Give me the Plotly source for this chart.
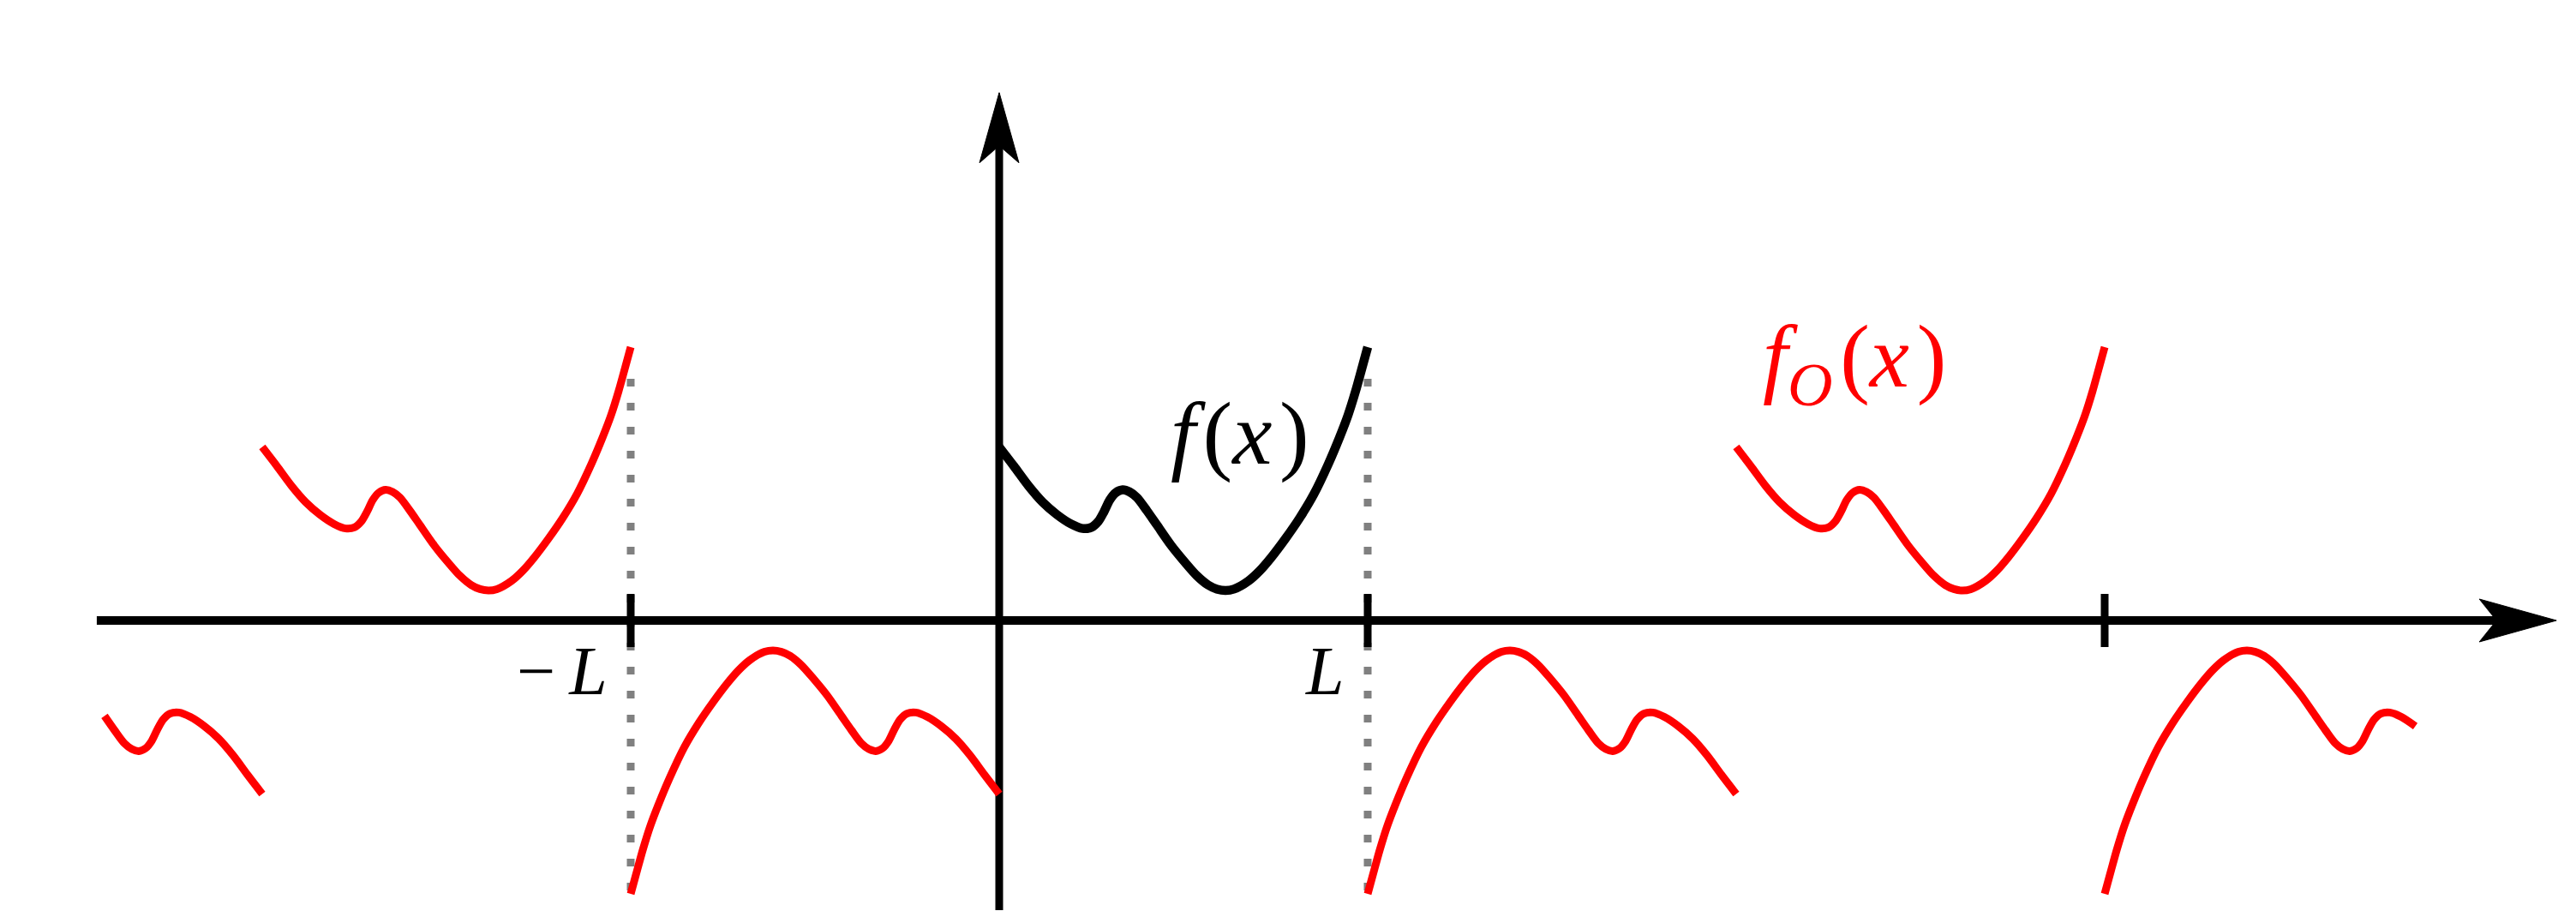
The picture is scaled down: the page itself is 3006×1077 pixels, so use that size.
import plotly.graph_objects as go

# f(x) on [0, L] (x in units of L)
u = [0.0, 0.040, 0.079, 0.118, 0.157, 0.195, 0.226, 0.250, 0.269, 0.284, 0.300,
     0.316, 0.335, 0.354, 0.374, 0.401, 0.428, 0.467, 0.505, 0.536, 0.567,
     0.591, 0.614, 0.637, 0.676, 0.707, 0.738, 0.777, 0.816, 0.854, 0.893,
     0.924, 0.947, 0.967, 0.982, 1.0]
f = [1.012, 0.900, 0.787, 0.690, 0.617, 0.563, 0.537, 0.543, 0.578, 0.633, 0.703,
     0.745, 0.762, 0.750, 0.717, 0.640, 0.557, 0.437, 0.337, 0.262, 0.207,
     0.183, 0.175, 0.183, 0.230, 0.290, 0.367, 0.478, 0.600, 0.737, 0.912,
     1.070, 1.200, 1.337, 1.453, 1.595]

x_axis = [-2.449, 4.226]
y_axis = [-1.69, 3.08]
tick_x = [-1, 1, 3]
tick_text = ["\u2212\u2009<i>L</i>", "<i>L</i>", ""]
jump_x = [-1, 1]

# px per data unit, origin position on the page
SX, SY = 430.0, 200.0
X0, Y0 = 1166.0, 724.0
PAD = 8  # body margin of the page
W, H = 3006 - 2 * PAD, 1077 - 2 * PAD

RED = "#ff0000"
fig = go.Figure()

# dotted jump lines
for xj in jump_x:
    fig.add_trace(go.Scatter(x=[xj, xj], y=[-f[-1] + 0.02, f[-1] - 0.13], mode="lines",
                             line=dict(color="#808080", width=9, dash="9px,19px"),
                             hoverinfo="skip"))

# axes
fig.add_trace(go.Scatter(x=[x_axis[0], x_axis[1] - 66 / SX], y=[0, 0], mode="lines",
                         line=dict(color="black", width=10), hoverinfo="skip"))
fig.add_trace(go.Scatter(x=[0, 0], y=[y_axis[0], y_axis[1] - 62 / SY], mode="lines",
                         line=dict(color="black", width=9), hoverinfo="skip"))

# arrow heads
tx = x_axis[1]
fig.add_trace(go.Scatter(
    x=[tx, tx - 90 / SX, tx - 70 / SX, tx - 90 / SX, tx],
    y=[0, 25 / SY, 0, -25 / SY, 0],
    mode="lines", fill="toself", fillcolor="black", line=dict(color="black", width=1),
    hoverinfo="skip"))
ty = y_axis[1]
fig.add_trace(go.Scatter(
    x=[0, 23 / SX, 0, -23 / SX, 0],
    y=[ty, ty - 82 / SY, ty - 62 / SY, ty - 82 / SY, ty],
    mode="lines", fill="toself", fillcolor="black", line=dict(color="black", width=1),
    hoverinfo="skip"))

# ticks
for xt in tick_x:
    fig.add_trace(go.Scatter(x=[xt, xt], y=[-31 / SY, 31 / SY], mode="lines",
                             line=dict(color="black", width=9), hoverinfo="skip"))

# odd periodic extension pieces (red)
left_u = [a for a in u if a <= 0.43]
right_u = [a for a in u if a >= 0.157]
fval = dict(zip(u, f))
pieces = [
    ([-2 - a for a in left_u], [-fval[a] for a in left_u]),
    ([a - 2 for a in u], f),
    ([-a for a in u], [-v for v in f]),
    ([2 - a for a in u], [-v for v in f]),
    ([2 + a for a in u], f),
    ([4 - a for a in right_u], [-fval[a] for a in right_u]),
]
for px, py in pieces:
    fig.add_trace(go.Scatter(x=px, y=py, mode="lines",
                             line=dict(color=RED, width=9, shape="spline", smoothing=0.8),
                             hoverinfo="skip"))

fig.add_trace(go.Scatter(x=u, y=f, mode="lines",
                         line=dict(color="black", width=10.5, shape="spline", smoothing=0.8),
                         hoverinfo="skip"))

# labels
for xt, t in zip(tick_x, tick_text):
    if t:
        fig.add_annotation(x=xt, y=0, text=t, showarrow=False, xanchor="right", yanchor="middle",
                           xshift=-25, yshift=-59,
                           font=dict(family="Liberation Serif", size=80, color="black"))
fig.add_annotation(x=0.653, y=1.09, text="<i>f</i>\u200a(<i>x</i>\u200a)", showarrow=False,
                   xanchor="center", yanchor="middle",
                   font=dict(family="Liberation Serif", size=104, color="black"))
fig.add_annotation(x=2.321, y=1.505, text="<i>f</i><sub><i>O</i></sub>\u200a(<i>x</i>\u200a)",
                   showarrow=False, xanchor="center", yanchor="middle",
                   font=dict(family="Liberation Serif", size=104, color=RED))

fig.update_xaxes(range=[(PAD - X0) / SX, (PAD + W - X0) / SX], visible=False)
fig.update_yaxes(range=[(Y0 - PAD - H) / SY, (Y0 - PAD) / SY], visible=False)
fig.update_layout(width=W, height=H, margin=dict(l=0, r=0, t=0, b=0),
                  showlegend=False, plot_bgcolor="white", paper_bgcolor="white")

fig.write_html("out.html")
